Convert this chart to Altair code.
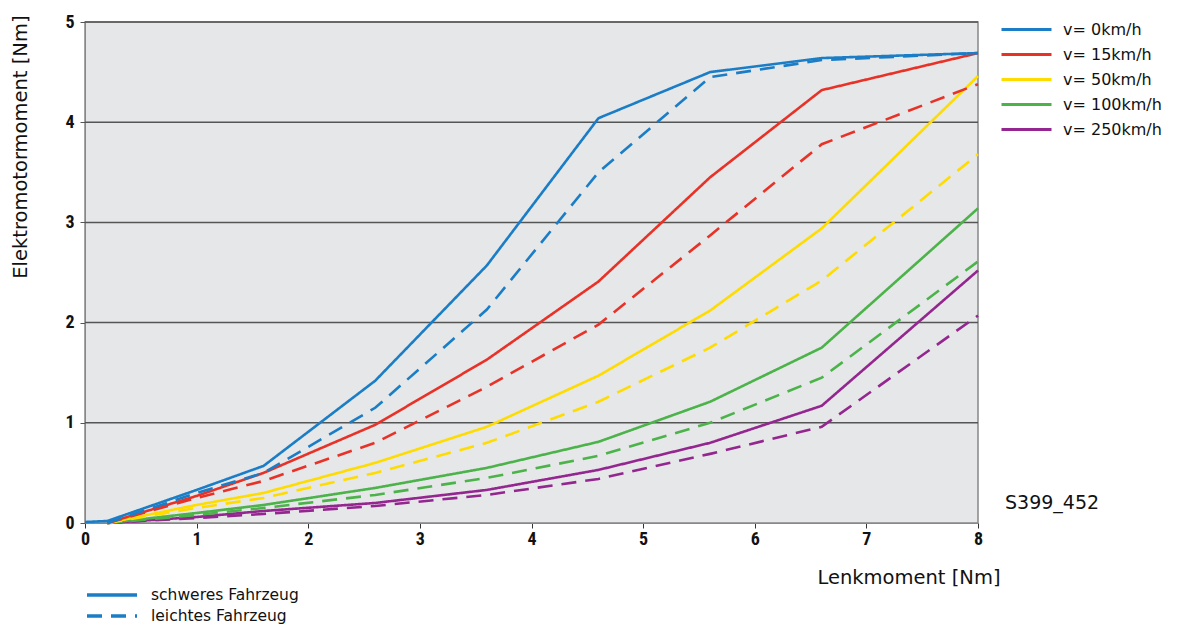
import altair as alt
import pandas as pd

# Lenkmoment [Nm] sample positions
X = [0, 0.2, 1, 1.6, 2.6, 3.6, 4.6, 5.6, 6.6, 8]

speeds = ["v= 0km/h", "v= 15km/h", "v= 50km/h", "v= 100km/h", "v= 250km/h"]
colors = ["#1a7dc6", "#e83228", "#ffdc00", "#4cb34a", "#93278f"]
types = ["schweres Fahrzeug", "leichtes Fahrzeug"]

# Elektromotormoment [Nm]; None = no point
heavy = {
    "v= 0km/h":   [0.01, 0.02, 0.33, 0.57, 1.42, 2.57, 4.04, 4.50, 4.64, 4.69],
    "v= 15km/h":  [None, 0.0, 0.27, 0.50, 0.98, 1.63, 2.41, 3.45, 4.32, 4.69],
    "v= 50km/h":  [None, 0.0, 0.18, 0.30, 0.60, 0.96, 1.47, 2.12, 2.94, 4.46],
    "v= 100km/h": [None, 0.0, 0.10, 0.18, 0.35, 0.55, 0.81, 1.21, 1.75, 3.14],
    "v= 250km/h": [None, 0.0, 0.06, 0.12, 0.20, 0.33, 0.53, 0.80, 1.17, 2.52],
}
light = {
    "v= 0km/h":   [None, 0.0, 0.30, 0.50, 1.15, 2.13, 3.50, 4.45, 4.62, 4.69],
    "v= 15km/h":  [None, 0.0, 0.25, 0.42, 0.80, 1.36, 1.98, 2.87, 3.78, 4.38],
    "v= 50km/h":  [None, 0.0, 0.15, 0.25, 0.50, 0.80, 1.21, 1.75, 2.42, 3.68],
    "v= 100km/h": [None, 0.0, 0.08, 0.15, 0.28, 0.45, 0.67, 1.00, 1.45, 2.61],
    "v= 250km/h": [None, 0.0, 0.05, 0.09, 0.17, 0.28, 0.44, 0.69, 0.96, 2.07],
}

grid_values = [1, 2, 3, 4, 5]
note = "S399_452"

rows = []
order = 0
for s in reversed(speeds):
    for typ, table in (("leichtes Fahrzeug", light), ("schweres Fahrzeug", heavy)):
        for x, y in zip(X, table[s]):
            if y is not None:
                rows.append({"x": x, "y": y, "speed": s, "typ": typ, "grp": order})
        order += 1
df = pd.DataFrame(rows)

FONT = "DejaVu Sans"
TICKFONT = "Roboto Condensed, DejaVu Sans Condensed, Roboto"

xscale = alt.Scale(domain=[0, 8], nice=False, zero=False)
yscale = alt.Scale(domain=[0, 5], nice=False)

grid = alt.Chart(pd.DataFrame({"g": grid_values})).mark_rule(
    color="#555555", strokeWidth=1.5
).encode(y=alt.Y("g:Q", scale=yscale))

lines = alt.Chart(df).mark_line(strokeWidth=2.6).encode(
    x=alt.X("x:Q", scale=xscale,
            axis=alt.Axis(values=list(range(9)), format="d", title="Lenkmoment [Nm]",
                          grid=False, labelFlush=False, labelFont=TICKFONT,
                          labelFontWeight="bold",
                          labelFontSize=18, labelColor="#111", tickSize=5,
                          tickColor="#333", domainColor="#888", labelPadding=2,
                          titleFont=FONT, titleFontSize=19.5, titleFontWeight="normal",
                          titleColor="#111", titleAlign="right", titleAnchor="end",
                          titleX=915, titleY=54, titleBaseline="middle")),
    y=alt.Y("y:Q", scale=yscale,
            axis=alt.Axis(values=list(range(6)), format="d", title="Elektromotormoment [Nm]",
                          grid=False, labelFlush=False, labelFont=TICKFONT,
                          labelFontWeight="bold",
                          labelFontSize=18, labelColor="#111", tickSize=5,
                          tickColor="#555", domainColor="#888", labelPadding=6,
                          titleFont=FONT, titleFontSize=19.5, titleFontWeight="normal",
                          titleColor="#111", titleAlign="right", titleAngle=270,
                          titleX=-65, titleY=-7, titleBaseline="middle")),
    color=alt.Color("speed:N", scale=alt.Scale(domain=speeds, range=colors),
                    legend=alt.Legend(title=None, orient="none", legendX=930, legendY=-4,
                                      symbolType="M-2.5,0H2.5", symbolSize=400,
                                      symbolStrokeWidth=3, labelOffset=25, labelLimit=300,
                                      labelFont=FONT, labelFontSize=16, labelColor="#111",
                                      rowPadding=5, padding=0)),
    strokeDash=alt.StrokeDash("typ:N", scale=alt.Scale(domain=types, range=[[1, 0], [15, 9]]),
                              legend=alt.Legend(title=None, orient="none", legendX=15, legendY=561,
                                                symbolType="M-2.5,0H2.5", symbolSize=400,
                                                symbolStrokeWidth=3.5, symbolStrokeColor="#1a7dc6",
                                                labelOffset=27, labelLimit=300, labelFont=FONT,
                                                labelFontSize=15.5, labelColor="#111",
                                                rowPadding=0, padding=0)),
    detail="grp:N",
)

text = alt.Chart(pd.DataFrame({"x": [8], "y": [0.2], "t": [note]})).mark_text(
    align="left", baseline="middle", dx=27, font=FONT, fontSize=19, color="#111"
).encode(x=alt.X("x:Q", scale=xscale), y=alt.Y("y:Q", scale=yscale), text="t:N")

chart = alt.layer(grid, lines, text).properties(
    width=893, height=501,
    autosize=alt.AutoSizeParams(type="none"),
    padding={"left": 77, "top": 14, "right": 198, "bottom": 101},
).configure_view(fill="#e6e7e9", stroke="#888888", strokeWidth=1.5)

chart.save("out.html", embed_options={"renderer": "svg", "actions": False})
